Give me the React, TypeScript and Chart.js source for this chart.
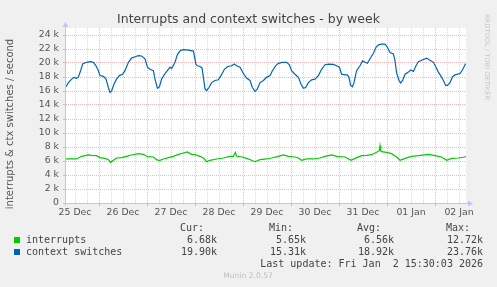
import React, { useEffect, useRef } from "react";
import { Chart, registerables } from "chart.js";

Chart.register(...registerables);

// Hours since 25 Dec 00:00; view spans 25 Dec 07:30 .. 02 Jan 15:30
const viewStartHour = 7.5;
const viewEndHour = 207.5;
const dayLabels = ["25 Dec", "26 Dec", "27 Dec", "28 Dec", "29 Dec", "30 Dec", "31 Dec", "01 Jan", "02 Jan"];

const chartTitle = "Interrupts and context switches - by week";
const yAxisTitle = "interrupts & ctx switches / second";

// values in thousands per second
const interruptsHours = [
  7.5, 12.8, 15.3, 18.7, 20.3, 22.8, 24.5, 27, 28.7, 29.8,
  31.2, 32.8, 35.3, 37.8, 40.3, 43.7, 46.2, 48.2, 51.2, 52.8,
  54.2, 56.2, 58.7, 61.2, 63.7, 66.2, 68.2, 70.3, 72, 74.5,
  76.2, 77.8, 79.5, 82.8, 86.2, 89.5, 91.2, 92.2, 92.8, 95.8,
  97.8, 100.3, 102, 104.5, 107.8, 110.3, 113.7, 116.2, 118.7, 122,
  123.7, 125.3, 127.8, 131.2, 134.5, 137, 140.3, 142.8, 147, 150,
  152, 155.3, 157.8, 160.3, 162.8, 164.2, 164.5, 164.9, 165.3, 167.8,
  170.3, 172.8, 174.5, 177, 180.3, 183.7, 188.7, 192, 195.3, 197.8,
  200.3, 203.7, 207, 207.5,
];
const interruptsValues = [
  6.29, 6.29, 6.67, 6.86, 6.8, 6.76, 6.48, 6.38, 6.19, 5.81,
  6.1, 6.43, 6.48, 6.67, 6.86, 7.05, 6.95, 6.62, 6.57, 6.19,
  6.05, 6.29, 6.48, 6.67, 6.95, 7.14, 7.29, 6.95, 6.9, 6.67,
  6.43, 5.9, 6.1, 6.29, 6.43, 6.67, 6.67, 7.24, 6.67, 6.57,
  6.38, 6.1, 5.9, 6.19, 6.29, 6.43, 6.67, 6.86, 6.67, 6.57,
  6.43, 6.1, 6.29, 6.29, 6.43, 6.67, 6.86, 6.67, 6.57, 6.1,
  6.38, 6.76, 6.8, 6.9, 7.24, 7.5, 8.19, 7.4, 7.33, 7.24,
  7.05, 6.57, 6.1, 6.38, 6.67, 6.76, 6.95, 6.76, 6.57, 6.1,
  6.38, 6.43, 6.57, 6.68,
];

const contextHours = [
  7.5, 8.7, 10.3, 11.5, 12.8, 13.7, 14.8, 15.8, 17.8, 19.8,
  21.2, 22.5, 23.7, 24.5, 26.2, 27.5, 28.7, 29.5, 30.3, 31.5,
  32.8, 34.2, 35.8, 37, 38.7, 40.3, 42, 43.7, 45.3, 47,
  48.2, 49.5, 51.2, 52, 53.2, 54.2, 55.3, 57, 58.2, 59.5,
  60.3, 62, 63.2, 64.8, 66.5, 68.7, 71.2, 72.5, 73.2, 74.5,
  75.5, 76.2, 77, 77.8, 79, 80.3, 82, 83.7, 85, 86.7,
  88.3, 90.3, 91.7, 92.8, 94.5, 96.2, 97.8, 99.5, 100.7, 102,
  103.2, 104.5, 106.2, 107.8, 109.5, 110.7, 112.3, 113.7, 115.7, 117.8,
  119.2, 120.3, 122, 123.7, 125, 126.2, 127.3, 128.7, 130.3, 132,
  133.7, 135.3, 137, 138.7, 141.2, 142.8, 144.2, 145.3, 147, 148.2,
  149, 149.8, 150.7, 151.5, 152.8, 154.5, 155.8, 157, 158.2, 159.5,
  161.2, 162.5, 163.7, 165.3, 167, 168.2, 169.5, 171.2, 172, 172.8,
  174, 174.8, 175.8, 177, 178.7, 179.8, 181.2, 182.5, 183.7, 185.3,
  187.8, 189.5, 191.2, 192.5, 193.7, 194.8, 196.2, 197.3, 198.2, 199.5,
  200.8, 202, 203.3, 204.5, 205.7, 207, 207.5,
];
const contextValues = [
  16.6, 17.2, 17.7, 17.95, 17.8, 18.0, 18.9, 19.85, 20.1, 20.2,
  20.1, 19.6, 18.9, 18.2, 18.1, 17.7, 16.5, 15.8, 16.0, 17.0,
  17.7, 18.2, 18.4, 18.9, 20.1, 20.7, 20.9, 21.05, 21.0, 20.6,
  19.4, 19.1, 18.9, 17.7, 16.4, 16.6, 17.7, 18.5, 18.9, 19.4,
  19.2, 20.1, 21.2, 21.8, 21.9, 21.85, 21.7, 19.8, 19.6, 19.5,
  19.3, 17.95, 16.3, 16.05, 16.5, 17.2, 17.5, 17.6, 18.2, 19.1,
  19.5, 19.6, 19.85, 19.6, 19.4, 18.5, 17.85, 17.5, 16.5, 15.95,
  16.3, 17.2, 17.5, 17.95, 18.2, 18.9, 19.6, 19.95, 20.1, 20.1,
  19.75, 18.9, 18.4, 17.95, 17.0, 16.4, 16.5, 17.2, 17.6, 17.7,
  18.2, 19.1, 19.75, 19.85, 19.8, 19.6, 19.4, 18.4, 18.3, 18.3,
  17.95, 16.8, 16.6, 17.2, 18.9, 19.6, 20.3, 20.1, 19.95, 20.6,
  21.4, 22.25, 22.6, 22.7, 22.7, 22.25, 21.5, 21.3, 20.3, 18.6,
  17.5, 17.15, 17.5, 18.4, 18.7, 19.0, 18.8, 19.6, 20.2, 20.4,
  20.7, 20.4, 20.1, 19.4, 18.7, 18.2, 17.5, 16.8, 16.8, 17.2,
  18.05, 18.3, 18.4, 18.5, 19.0, 19.75, 19.9,
];

const seriesNames = ["interrupts", "context switches"];
const seriesColors = ["#00cc00", "#0066b3"];
const statHeaders = ["Cur:", "Min:", "Avg:", "Max:"];
const interruptsStats = ["6.68k", "5.65k", "6.56k", "12.72k"];
const contextStats = ["19.90k", "15.31k", "18.92k", "23.76k"];
const lastUpdate = "Last update: Fri Jan  2 15:30:03 2026";
const footer = "Munin 2.0.57";
const sideText = "RRDTOOL / TOBI OETIKER";

const MAJOR = "rgba(232,80,80,0.42)";
const MINOR = "rgba(150,150,150,0.36)";
const AXIS = "#c2c2f6";
const TEXT = "#555";
const LEGEND_TEXT = "#444";

const muninPlugin = {
  id: "muninDecor",
  beforeDraw(chart: any) {
    const { ctx, chartArea: a, width, height } = chart;
    ctx.save();
    ctx.fillStyle = "#f0f0f0";
    ctx.fillRect(0, 0, width, height);
    ctx.fillStyle = "#ffffff";
    ctx.fillRect(a.left, a.top, a.right - a.left, a.bottom - a.top);
    ctx.restore();
  },
  afterDraw(chart: any) {
    const { ctx, chartArea: a } = chart;
    ctx.save();
    // title
    ctx.fillStyle = "#444";
    ctx.font = "12.5px 'DejaVu Sans'";
    ctx.textAlign = "center";
    ctx.textBaseline = "middle";
    ctx.fillText(chartTitle, 248.5, 19.5);

    // axes with arrows
    ctx.strokeStyle = AXIS;
    ctx.fillStyle = AXIS;
    ctx.lineWidth = 1;
    const yb = Math.round(a.bottom) + 0.5;
    const xl = Math.round(a.left) - 0.5;
    ctx.beginPath();
    ctx.moveTo(a.left - 3, yb);
    ctx.lineTo(a.right + 3, yb);
    ctx.stroke();
    ctx.beginPath();
    ctx.moveTo(a.right + 2, yb - 3);
    ctx.lineTo(a.right + 7, yb);
    ctx.lineTo(a.right + 2, yb + 3);
    ctx.closePath();
    ctx.fill();
    ctx.beginPath();
    ctx.moveTo(xl, a.bottom + 3);
    ctx.lineTo(xl, a.top - 2);
    ctx.stroke();
    ctx.beginPath();
    ctx.moveTo(xl - 3, a.top - 1);
    ctx.lineTo(xl, a.top - 6);
    ctx.lineTo(xl + 3, a.top - 1);
    ctx.closePath();
    ctx.fill();

    // y axis title
    ctx.fillStyle = TEXT;
    ctx.font = "10px 'DejaVu Sans'";
    ctx.textAlign = "center";
    ctx.textBaseline = "middle";
    ctx.save();
    ctx.translate(10, 124);
    ctx.rotate(-Math.PI / 2);
    ctx.fillText(yAxisTitle, 0, 0);
    ctx.restore();

    // side text
    ctx.save();
    ctx.fillStyle = "#c6c6c6";
    ctx.font = "6.7px 'DejaVu Sans'";
    ctx.translate(487, 57);
    ctx.rotate(Math.PI / 2);
    ctx.fillText(sideText, 0, 0);
    ctx.restore();

    // legend
    ctx.font = "10px 'DejaVu Sans Mono'";
    ctx.fillStyle = LEGEND_TEXT;
    ctx.textBaseline = "middle";
    const headerRight = [204, 293, 381, 470];
    const valueRight = [217, 306, 394, 483];
    ctx.textAlign = "right";
    statHeaders.forEach((h, i) => ctx.fillText(h, headerRight[i], 228));
    const rows = [interruptsStats, contextStats];
    rows.forEach((stats, r) => {
      const y = 240 + r * 12.3;
      ctx.fillStyle = seriesColors[r];
      ctx.fillRect(14, Math.round(y) - 3, 6, 6);
      ctx.fillStyle = LEGEND_TEXT;
      ctx.textAlign = "left";
      ctx.fillText(seriesNames[r], 26, y);
      ctx.textAlign = "right";
      stats.forEach((s, i) => ctx.fillText(s, valueRight[i], y));
    });
    ctx.fillText(lastUpdate, 483, 264);

    ctx.fillStyle = "#c0c0c0";
    ctx.font = "7.6px 'DejaVu Sans'";
    ctx.textAlign = "center";
    ctx.fillText(footer, 248, 276.5);
    ctx.restore();
  },
};

export default function App() {
  const canvasRef = useRef<HTMLCanvasElement | null>(null);

  useEffect(() => {
    const canvas = canvasRef.current;
    if (!canvas) return;
    const chart = new Chart(canvas, {
      type: "line",
      data: {
        datasets: [
          {
            label: seriesNames[0],
            data: interruptsHours.map((h, i) => ({ x: h, y: interruptsValues[i] })),
            borderColor: seriesColors[0],
            borderWidth: 1.2,
            pointRadius: 0,
            tension: 0,
            fill: false,
          },
          {
            label: seriesNames[1],
            data: contextHours.map((h, i) => ({ x: h, y: contextValues[i] })),
            borderColor: seriesColors[1],
            borderWidth: 1.2,
            pointRadius: 0,
            tension: 0,
            fill: false,
          },
        ],
      },
      options: {
        animation: false,
        responsive: false,
        devicePixelRatio: 1,
        layout: { padding: { left: 0, right: 31, top: 28, bottom: 0 } },
        plugins: {
          legend: { display: false },
          tooltip: { enabled: false },
          title: { display: false },
        },
        scales: {
          x: {
            type: "linear",
            min: viewStartHour,
            max: viewEndHour,
            afterBuildTicks: (s: any) => {
              const t = [];
              for (let h = 12; h <= 204; h += 6) t.push({ value: h });
              s.ticks = t;
            },
            afterFit: (s: any) => {
              s.height = 84;
            },
            grid: {
              color: (c: any) => (c.tick && c.tick.value % 24 === 0 ? MAJOR : MINOR),
              lineWidth: 1,
              drawTicks: true,
              tickLength: 3,
              tickColor: (c: any) => (c.tick && c.tick.value % 24 === 0 ? MAJOR : "rgba(0,0,0,0)"),
            },
            border: { display: false, dash: [1, 1] },
            ticks: {
              autoSkip: false,
              maxRotation: 0,
              padding: 1,
              color: TEXT,
              font: { family: "'DejaVu Sans'", size: 9.3 },
              callback: (v: any) => (v % 24 === 12 ? dayLabels[(v - 12) / 24] : ""),
            },
          },
          y: {
            min: 0,
            max: 25,
            afterBuildTicks: (s: any) => {
              const t = [];
              for (let v = 0; v <= 24; v += 1) t.push({ value: v });
              s.ticks = t;
            },
            afterFit: (s: any) => {
              s.width = 66;
            },
            grid: {
              color: (c: any) => (c.tick && c.tick.value % 2 === 0 ? MAJOR : MINOR),
              lineWidth: 1,
              drawTicks: true,
              tickLength: 3,
              tickColor: (c: any) => (c.tick && c.tick.value % 2 === 0 ? MAJOR : "rgba(0,0,0,0)"),
            },
            border: { display: false, dash: [1, 1] },
            ticks: {
              padding: 4,
              color: TEXT,
              font: { family: "'DejaVu Sans'", size: 9.3 },
              callback: (v: any) => (v % 2 === 0 ? (v === 0 ? "0" : `${v} k`) : ""),
            },
          },
        },
      },
      plugins: [muninPlugin],
    } as any);
    return () => chart.destroy();
  }, []);

  return (
    <div style={{ position: "absolute", left: 0, top: 0, width: 497, height: 287, background: "#f0f0f0" }}>
      <canvas ref={canvasRef} width={497} height={287} style={{ width: 497, height: 287, display: "block" }} />
    </div>
  );
}
